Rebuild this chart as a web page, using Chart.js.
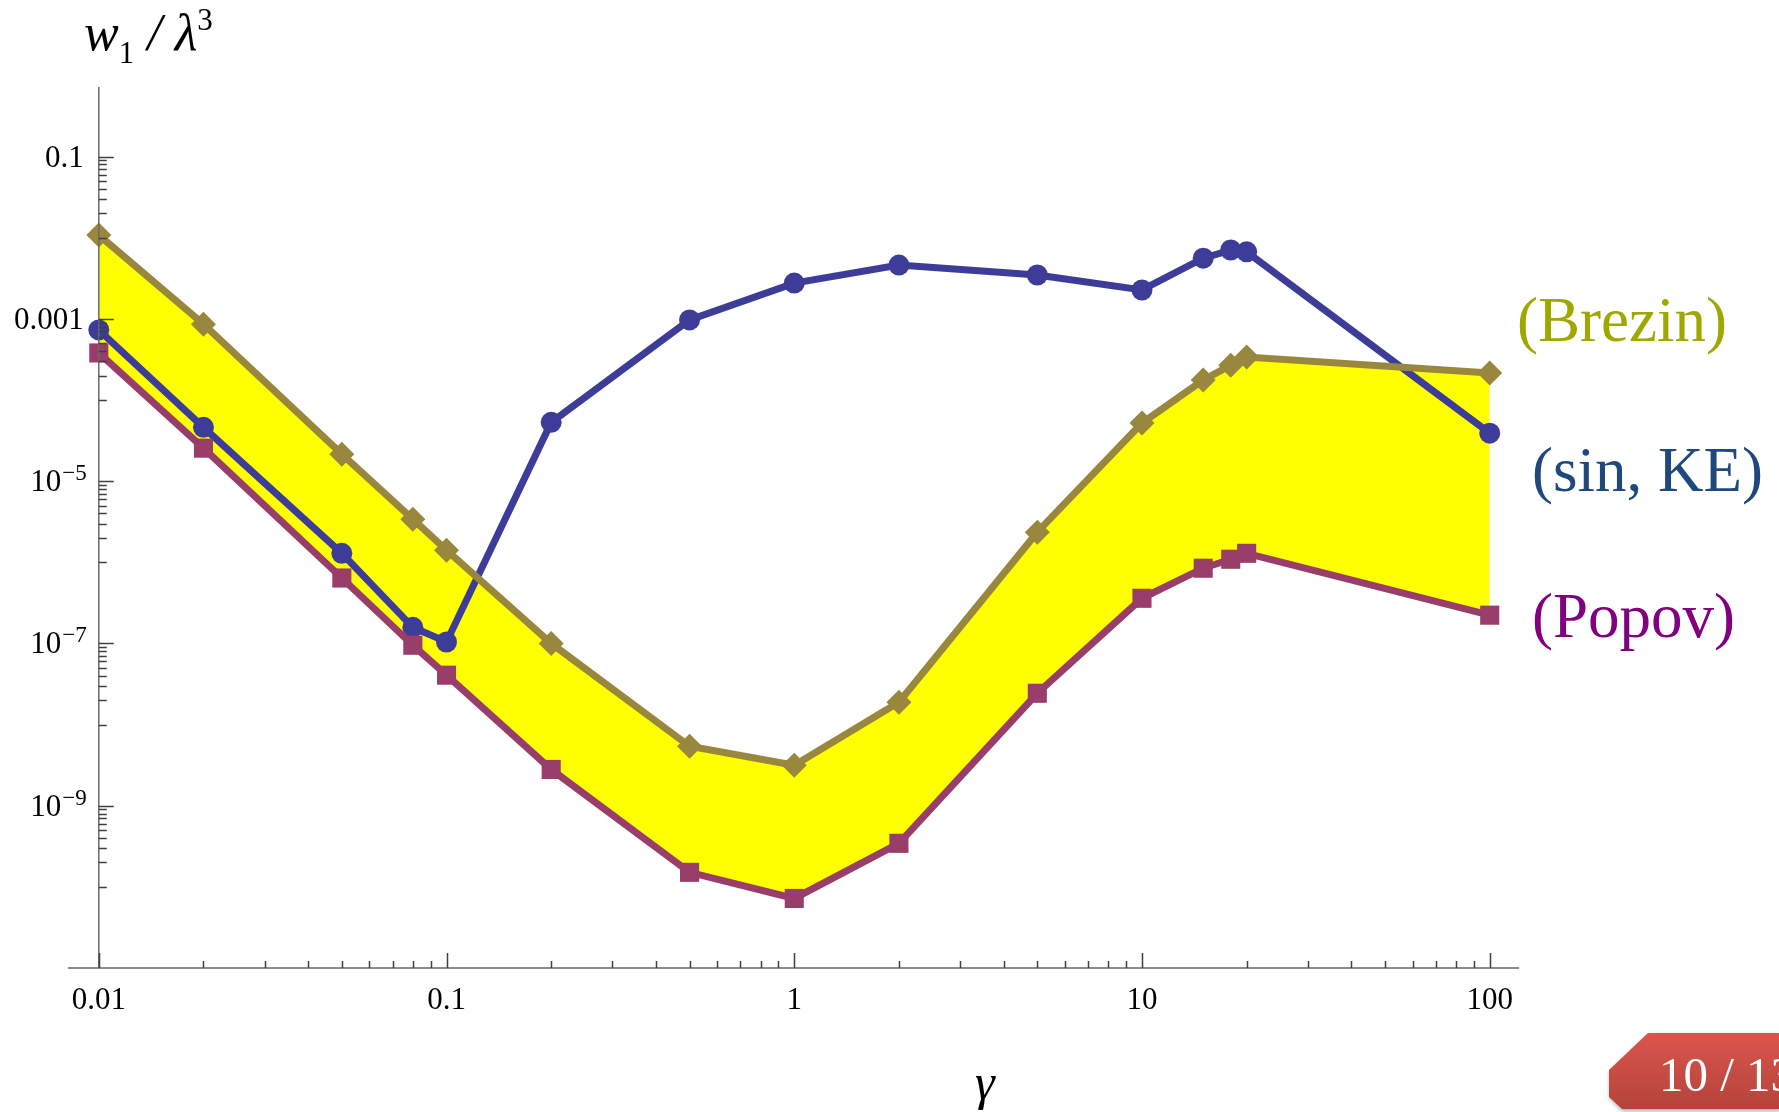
<!DOCTYPE html>
<html>
<head>
<meta charset="utf-8">
<title>w1 / lambda^3 against gamma</title>
<script src="https://cdn.jsdelivr.net/npm/chart.js@4.4.1/dist/chart.umd.min.js"></script>
<style>
  html, body { margin: 0; padding: 0; background: #fff; overflow: hidden; }
  #stage { position: relative; width: 1779px; height: 1112px; overflow: hidden; }
  #plot { position: absolute; left: 0; top: 0; }
  .txt {
    position: absolute;
    font-family: "Liberation Serif", "Times New Roman", serif;
    line-height: 1;
    white-space: nowrap;
  }
  #ytitle { left: 84px; top: 7px; font-size: 52px; font-style: italic; color: #000; }
  #ytitle .sub { font-size: 31px; font-style: normal; position: relative; top: 13px; }
  #ytitle .sup { font-size: 31px; font-style: normal; position: relative; top: -20px; }
  #xtitle { left: 975px; top: 1057px; font-size: 50px; font-style: italic; color: #000; }
  .series { font-size: 63px; }
  #lblBrezin { left: 1517px; top: 289px; color: #a0a800; }
  #lblSinKE { left: 1532px; top: 439px; color: #1f497d; }
  #lblPopov { left: 1532px; top: 585px; color: #800080; }
  #badgeWrap { position: absolute; left: 1609px; top: 1033px; filter: drop-shadow(1px 2px 2px rgba(0,0,0,0.35)); }
  #badge {
    width: 170px; height: 76px;
    background: linear-gradient(#da564c, #b4433b);
    clip-path: polygon(39px 0, 100% 0, 100% 100%, 13px 100%, 0 64px, 0 37px);
  }
  #badge span { position: absolute; left: 50px; top: 17px; font-size: 49px; color: #fff; }
</style>
</head>
<body>
<div id="stage">
  <canvas id="plot" width="1779" height="1112"></canvas>
  <div id="ytitle" class="txt">w<span class="sub">1</span> / λ<span class="sup">3</span></div>
  <div id="xtitle" class="txt">γ</div>
  <div id="lblBrezin" class="txt series">(Brezin)</div>
  <div id="lblSinKE" class="txt series">(sin, KE)</div>
  <div id="lblPopov" class="txt series">(Popov)</div>
  <div id="badgeWrap"><div id="badge"><span class="txt">10 / 13</span></div></div>
</div>
<script>
  // gamma values shared by all three curves
  const gammaValues = [0.01, 0.02, 0.05, 0.08, 0.1, 0.2, 0.5, 1, 2, 5, 10, 15, 18, 20, 100];

  // w1 / lambda^3
  const brezinValues = [1.08e-2, 8.6e-4, 2.15e-5, 3.4e-6, 1.41e-6, 1.0e-7, 5.4e-9, 3.15e-9,
    1.88e-8, 2.35e-6, 5.2e-5, 1.76e-4, 2.69e-4, 3.38e-4, 2.15e-4];
  const sinKeValues = [7.3e-4, 4.6e-5, 1.29e-6, 1.58e-7, 1.04e-7, 5.3e-5, 9.7e-4, 2.76e-3,
    4.6e-3, 3.47e-3, 2.27e-3, 5.6e-3, 7.05e-3, 6.7e-3, 3.9e-5];
  const popovValues = [3.8e-4, 2.55e-5, 6.4e-7, 9.5e-8, 4.06e-8, 2.8e-9, 1.51e-10, 7.2e-11,
    3.44e-10, 2.43e-8, 3.6e-7, 8.45e-7, 1.09e-6, 1.29e-6, 2.23e-7];

  // axes
  const xRange = [0.00821, 120.6];
  const yRange = [1e-11, 0.72];
  const yAxisAt = 0.01;
  const xMajorTicks = [0.01, 0.1, 1, 10, 100];
  const xTickLabels = ["0.01", "0.1", "1", "10", "100"];
  const yMajorTicks = [1e-1, 1e-3, 1e-5, 1e-7, 1e-9];
  const yTickBases = ["0.1", "0.001", "10", "10", "10"];
  const yTickExponents = ["", "", "\u22125", "\u22127", "\u22129"];

  const toPoints = (ys) => gammaValues.map((g, i) => ({ x: g, y: ys[i] }));

  // minor ticks: 2..9 in every x decade, 1..9 in the decade under each labelled y tick
  const xTicks = [];
  xMajorTicks.forEach((d, i) => {
    xTicks.push({ value: d, major: true });
    if (i < xMajorTicks.length - 1) {
      for (let m = 2; m <= 9; m++) xTicks.push({ value: m * d, major: false });
    }
  });
  const yTicks = [];
  yMajorTicks.forEach((d) => {
    yTicks.push({ value: d, major: true });
    for (let m = 1; m <= 9; m++) yTicks.push({ value: (m * d) / 10, major: false });
  });

  const serif = '"Liberation Serif", "Times New Roman", serif';

  // Mathematica style axes: y axis sits at gamma = 0.01, ticks point inwards
  const mathAxes = {
    id: "mathAxes",
    afterDatasetsDraw(chart) {
      const { ctx, chartArea, scales } = chart;
      const x = scales.x;
      const y = scales.y;
      const axisX = x.getPixelForValue(yAxisAt);
      ctx.save();

      ctx.strokeStyle = "#6a6a6a";
      ctx.lineWidth = 1.5;
      ctx.beginPath();
      ctx.moveTo(axisX, chartArea.top);
      ctx.lineTo(axisX, chartArea.bottom);
      ctx.stroke();

      ctx.strokeStyle = "#404040";
      ctx.lineWidth = 1.5;
      ctx.beginPath();
      xTicks.forEach((t) => {
        const px = Math.round(x.getPixelForValue(t.value)) + 0.5;
        ctx.moveTo(px, chartArea.bottom);
        ctx.lineTo(px, chartArea.bottom - (t.major ? 15 : 7));
      });
      yTicks.forEach((t) => {
        if (t.value < yRange[0] || t.value > yRange[1]) return;
        const py = Math.round(y.getPixelForValue(t.value)) + 0.5;
        ctx.moveTo(axisX, py);
        ctx.lineTo(axisX + (t.major ? 15 : 8), py);
      });
      ctx.stroke();

      ctx.fillStyle = "#000";
      ctx.textBaseline = "alphabetic";
      ctx.textAlign = "right";
      yMajorTicks.forEach((v, i) => {
        const py = y.getPixelForValue(v);
        if (yTickExponents[i]) {
          const expRight = axisX - 12;
          ctx.font = "23px " + serif;
          const expW = ctx.measureText(yTickExponents[i]).width;
          ctx.fillText(yTickExponents[i], expRight, py - 1);
          ctx.font = "31px " + serif;
          ctx.fillText(yTickBases[i], expRight - expW - 1, py + 10);
        } else {
          ctx.font = "31px " + serif;
          ctx.fillText(yTickBases[i], axisX - 15, py + 10);
        }
      });
      ctx.restore();
    },
  };

  const ctx = document.getElementById("plot").getContext("2d");
  new Chart(ctx, {
    type: "line",
    data: {
      datasets: [
        {
          label: "(sin, KE)",
          data: toPoints(sinKeValues),
          borderColor: "#3d3d99",
          backgroundColor: "#3d3d99",
          pointBackgroundColor: "#3d3d99",
          borderWidth: 7,
          pointStyle: "circle",
          pointRadius: 10.5,
          pointBorderWidth: 0,
          fill: false,
          order: 2,
        },
        {
          label: "(Popov)",
          data: toPoints(popovValues),
          borderColor: "#993d6b",
          backgroundColor: "#993d6b",
          pointBackgroundColor: "#993d6b",
          borderWidth: 7,
          pointStyle: "rect",
          pointRadius: 13.5,
          pointBorderWidth: 0,
          fill: false,
          order: 1,
        },
        {
          label: "(Brezin)",
          data: toPoints(brezinValues),
          borderColor: "#99873d",
          backgroundColor: "#ffff00",
          pointBackgroundColor: "#99873d",
          borderWidth: 7,
          pointStyle: "rectRot",
          pointRadius: 12.5,
          pointBorderWidth: 0,
          fill: 1,
          order: 0,
        },
      ],
    },
    options: {
      responsive: false,
      animation: false,
      events: [],
      layout: { padding: { left: 69, right: 261, top: 87, bottom: 0 } },
      elements: { line: { tension: 0 } },
      plugins: {
        legend: { display: false },
        tooltip: { enabled: false },
        filler: { drawTime: "beforeDatasetsDraw" },
      },
      scales: {
        x: {
          type: "logarithmic",
          position: "bottom",
          min: xRange[0],
          max: xRange[1],
          afterBuildTicks: (scale) => {
            scale.ticks = xTicks.map((t) => ({ value: t.value }));
          },
          afterFit: (scale) => {
            scale.height = 144;
          },
          grid: { display: true, drawOnChartArea: false, drawTicks: false },
          border: { display: true, color: "#8c8c8c", width: 2 },
          ticks: {
            autoSkip: false,
            maxRotation: 0,
            padding: 14,
            color: "#000",
            font: { family: serif, size: 31 },
            callback: (value) => {
              const i = xMajorTicks.indexOf(value);
              return i >= 0 ? xTickLabels[i] : "";
            },
          },
        },
        y: {
          type: "logarithmic",
          display: false,
          min: yRange[0],
          max: yRange[1],
        },
      },
    },
    plugins: [mathAxes],
  });
</script>
</body>
</html>
